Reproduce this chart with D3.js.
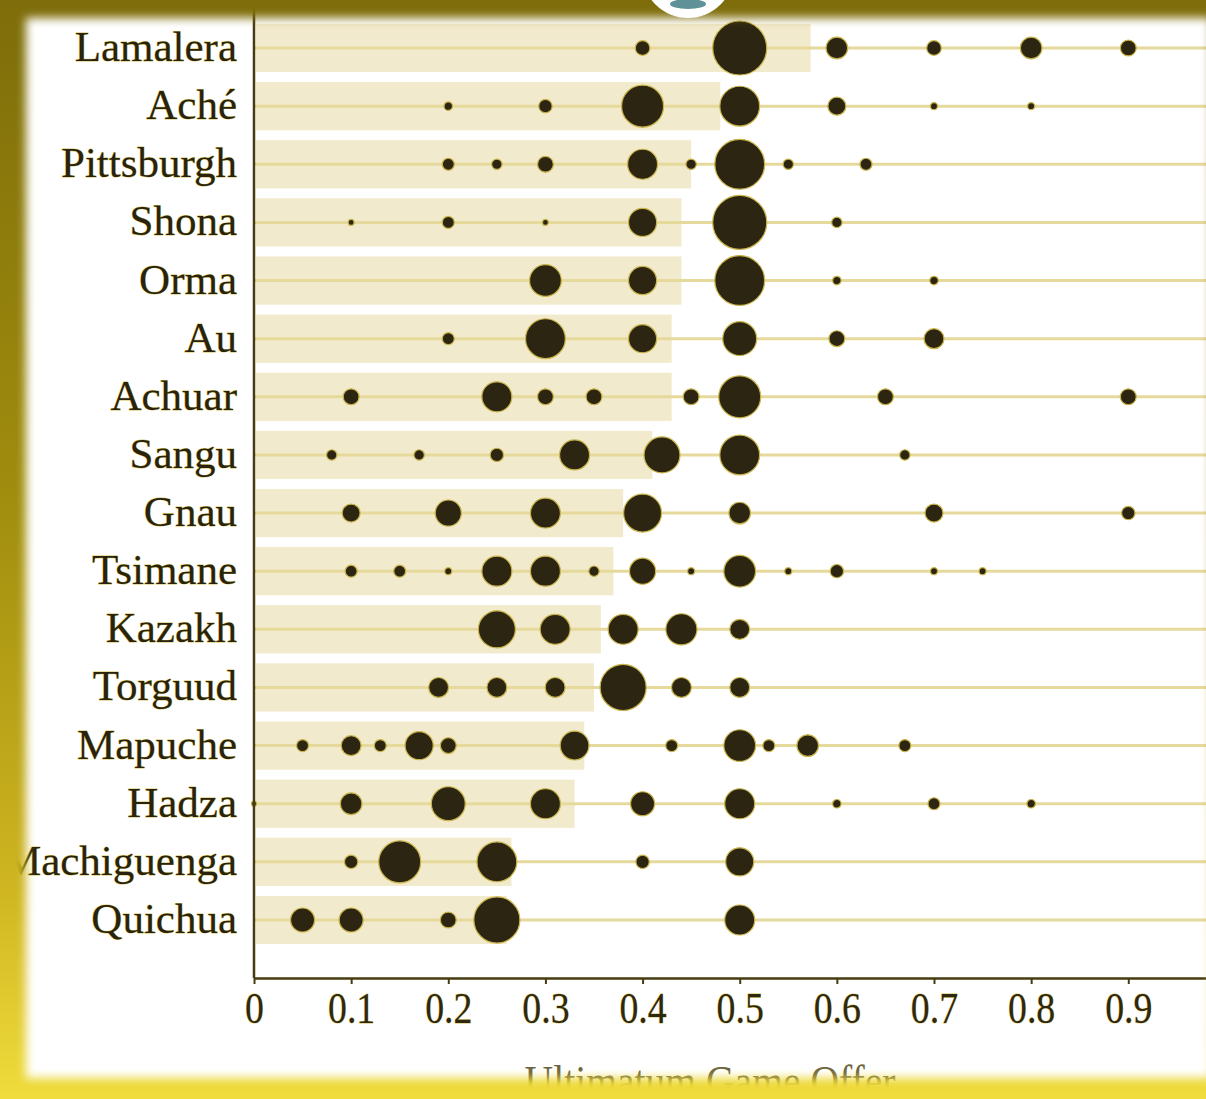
<!DOCTYPE html>
<html>
<head>
<meta charset="utf-8">
<script src="https://cdn.jsdelivr.net/npm/d3@7"></script>
<style>
  html, body { margin: 0; padding: 0; background: #fff; }
  svg { display: block; }
</style>
</head>
<body>
<div id="chart"></div>
<script>
// groups, sorted by mean offer
const groups = ['Lamalera', 'Aché', 'Pittsburgh', 'Shona', 'Orma', 'Au', 'Achuar', 'Sangu',
  'Gnau', 'Tsimane', 'Kazakh', 'Torguud', 'Mapuche', 'Hadza', 'Machiguenga', 'Quichua'];

const meanOffer = [0.573, 0.48, 0.45, 0.44, 0.44, 0.43, 0.43, 0.41,
  0.38, 0.37, 0.357, 0.35, 0.34, 0.33, 0.265, 0.26];

// [offer, relative frequency] for each group
const offers = [
  [[0.4, 6], [0.5, 81], [0.6, 13], [0.7, 6], [0.8, 13], [0.9, 7]],
  [[0.2, 2], [0.3, 5], [0.4, 49], [0.5, 44], [0.6, 9], [0.7, 1.4], [0.8, 1.4]],
  [[0.2, 4], [0.25, 3], [0.3, 7], [0.4, 25], [0.45, 3], [0.5, 69], [0.55, 3], [0.63, 4]],
  [[0.1, 1], [0.2, 4], [0.3, 1], [0.4, 22], [0.5, 81], [0.6, 3]],
  [[0.3, 28], [0.4, 22], [0.5, 69], [0.6, 2], [0.7, 2]],
  [[0.2, 4], [0.3, 44], [0.4, 22], [0.5, 32], [0.6, 7], [0.7, 11]],
  [[0.1, 7], [0.25, 25], [0.3, 7], [0.35, 7], [0.45, 7], [0.5, 49], [0.65, 7], [0.9, 7]],
  [[0.08, 3], [0.17, 3], [0.25, 5], [0.33, 25], [0.42, 36], [0.5, 44], [0.67, 3]],
  [[0.1, 9], [0.2, 19], [0.3, 25], [0.4, 40], [0.5, 13], [0.7, 9], [0.9, 5]],
  [[0.1, 4], [0.15, 4], [0.2, 1.4], [0.25, 25], [0.3, 25], [0.35, 3], [0.4, 19], [0.45, 1.4],
   [0.5, 28], [0.55, 1.4], [0.6, 5], [0.7, 1.4], [0.75, 1.4]],
  [[0.25, 38], [0.31, 25], [0.38, 25], [0.44, 27], [0.5, 11]],
  [[0.19, 11], [0.25, 11], [0.31, 11], [0.38, 59], [0.44, 11], [0.5, 11]],
  [[0.05, 4], [0.1, 11], [0.13, 4], [0.17, 22], [0.2, 7], [0.33, 23], [0.43, 4], [0.5, 28],
   [0.53, 4], [0.57, 13], [0.67, 4]],
  [[0, 0.7], [0.1, 13], [0.2, 32], [0.3, 25], [0.4, 16], [0.5, 25], [0.6, 2], [0.7, 4], [0.8, 2]],
  [[0.1, 5], [0.15, 49], [0.25, 44], [0.4, 5], [0.5, 22]],
  [[0.05, 16], [0.1, 16], [0.2, 7], [0.25, 59], [0.5, 25]]
];

const tickValues = [0, 0.1, 0.2, 0.3, 0.4, 0.5, 0.6, 0.7, 0.8, 0.9];
const xTitle = 'Ultimatum Game Offer';

const W = 1206, H = 1099;
const axisX = 254, axisY = 978;

const svg = d3.select('#chart').append('svg')
  .attr('width', W)
  .attr('height', H);

const defs = svg.append('defs');

const frameGrad = defs.append('linearGradient')
  .attr('id', 'frameGrad')
  .attr('x1', 0).attr('y1', 0).attr('x2', 0).attr('y2', 1);
frameGrad.append('stop').attr('offset', '0%').attr('stop-color', '#7e6d0a');
frameGrad.append('stop').attr('offset', '45%').attr('stop-color', '#a08d0e');
frameGrad.append('stop').attr('offset', '80%').attr('stop-color', '#cdb420');
frameGrad.append('stop').attr('offset', '100%').attr('stop-color', '#f0dc3c');

defs.append('filter')
  .attr('id', 'soft')
  .attr('x', '-10%').attr('y', '-10%').attr('width', '120%').attr('height', '120%')
  .append('feGaussianBlur')
  .attr('stdDeviation', 5);

const mask = defs.append('mask').attr('id', 'frameMask')
  .attr('maskUnits', 'userSpaceOnUse')
  .attr('x', 0).attr('y', 0).attr('width', W).attr('height', H);
mask.append('rect').attr('width', W).attr('height', H).attr('fill', '#fff');
mask.append('rect')
  .attr('x', 26).attr('y', 18)
  .attr('width', 1185).attr('height', 1060)
  .attr('fill', '#000')
  .attr('filter', 'url(#soft)');

const x = d3.scaleLinear().domain([0, 0.98]).range([axisX, W]);
const y = d3.scalePoint().domain(groups).range([48, 920]);
const r = d3.scaleSqrt().domain([0, 100]).range([0, 30]);
const barH = y.step() * 0.83;

const rows = groups.map((g, i) => ({ group: g, mean: meanOffer[i], offers: offers[i] }));

// mean offer bars
svg.append('g')
  .attr('fill', '#f2eacc')
  .selectAll('rect')
  .data(rows)
  .join('rect')
  .attr('x', axisX + 2)
  .attr('y', (d) => y(d.group) - barH / 2)
  .attr('width', (d) => x(d.mean) - axisX - 2)
  .attr('height', barH);

// row lines
svg.append('g')
  .attr('stroke', '#e6d99c')
  .attr('stroke-width', 3)
  .selectAll('line')
  .data(rows)
  .join('line')
  .attr('x1', axisX)
  .attr('x2', W)
  .attr('y1', (d) => y(d.group))
  .attr('y2', (d) => y(d.group));

// offer dots
svg.append('g')
  .selectAll('g')
  .data(rows)
  .join('g')
  .attr('transform', (d) => 'translate(0,' + y(d.group) + ')')
  .selectAll('circle')
  .data((d) => d.offers)
  .join('circle')
  .attr('cx', (d) => x(d[0]))
  .attr('cy', 0)
  .attr('r', (d) => r(d[1]))
  .attr('fill', '#2c2511')
  .attr('stroke', '#c9b54a')
  .attr('stroke-width', 1.2);

// group labels
svg.append('g')
  .selectAll('text')
  .data(groups)
  .join('text')
  .attr('x', 237)
  .attr('y', (d) => y(d) + 13)
  .attr('text-anchor', 'end')
  .attr('font-family', '"Liberation Serif", "Times New Roman", serif')
  .attr('font-size', 43)
  .attr('fill', '#29230d')
  .attr('stroke', '#d6c457')
  .attr('stroke-width', 0.8)
  .attr('paint-order', 'stroke')
  .text((d) => d);

// y axis line
svg.append('line')
  .attr('x1', axisX).attr('x2', axisX)
  .attr('y1', 0).attr('y2', axisY)
  .attr('stroke', '#463c10')
  .attr('stroke-width', 2.5);

// x axis
const xAxis = d3.axisBottom(x)
  .tickValues(tickValues)
  .tickFormat((d) => (d === 0 ? '0' : d3.format('.1f')(d)))
  .tickSize(6)
  .tickSizeOuter(0);

const gx = svg.append('g')
  .attr('transform', 'translate(0,' + axisY + ')')
  .call(xAxis);
gx.select('.domain').attr('stroke', '#463c10').attr('stroke-width', 2.5);
gx.selectAll('.tick line').attr('stroke', '#463c10').attr('stroke-width', 2);
gx.selectAll('.tick text')
  .attr('y', 0)
  .attr('dy', 0)
  .attr('transform', 'translate(0,45) scale(0.86,1)')
  .attr('font-family', '"Liberation Serif", "Times New Roman", serif')
  .attr('font-size', 44)
  .attr('fill', '#2f2810')
  .attr('stroke', '#d6c457')
  .attr('stroke-width', 0.8)
  .attr('paint-order', 'stroke');

svg.append('text')
  .attr('transform', 'translate(710,1096) scale(0.9,1)')
  .attr('text-anchor', 'middle')
  .attr('font-family', '"Liberation Serif", "Times New Roman", serif')
  .attr('font-size', 44)
  .attr('fill', '#6d6542')
  .text(xTitle);

// coloured frame on top
svg.append('rect')
  .attr('width', W)
  .attr('height', H)
  .attr('fill', 'url(#frameGrad)')
  .attr('mask', 'url(#frameMask)');

// badge cut off at the top edge
svg.append('circle')
  .attr('cx', 688).attr('cy', -28).attr('r', 46)
  .attr('fill', '#ffffff');
svg.append('ellipse')
  .attr('cx', 688).attr('cy', 4).attr('rx', 18).attr('ry', 5)
  .attr('fill', '#5f9199');
</script>
</body>
</html>
